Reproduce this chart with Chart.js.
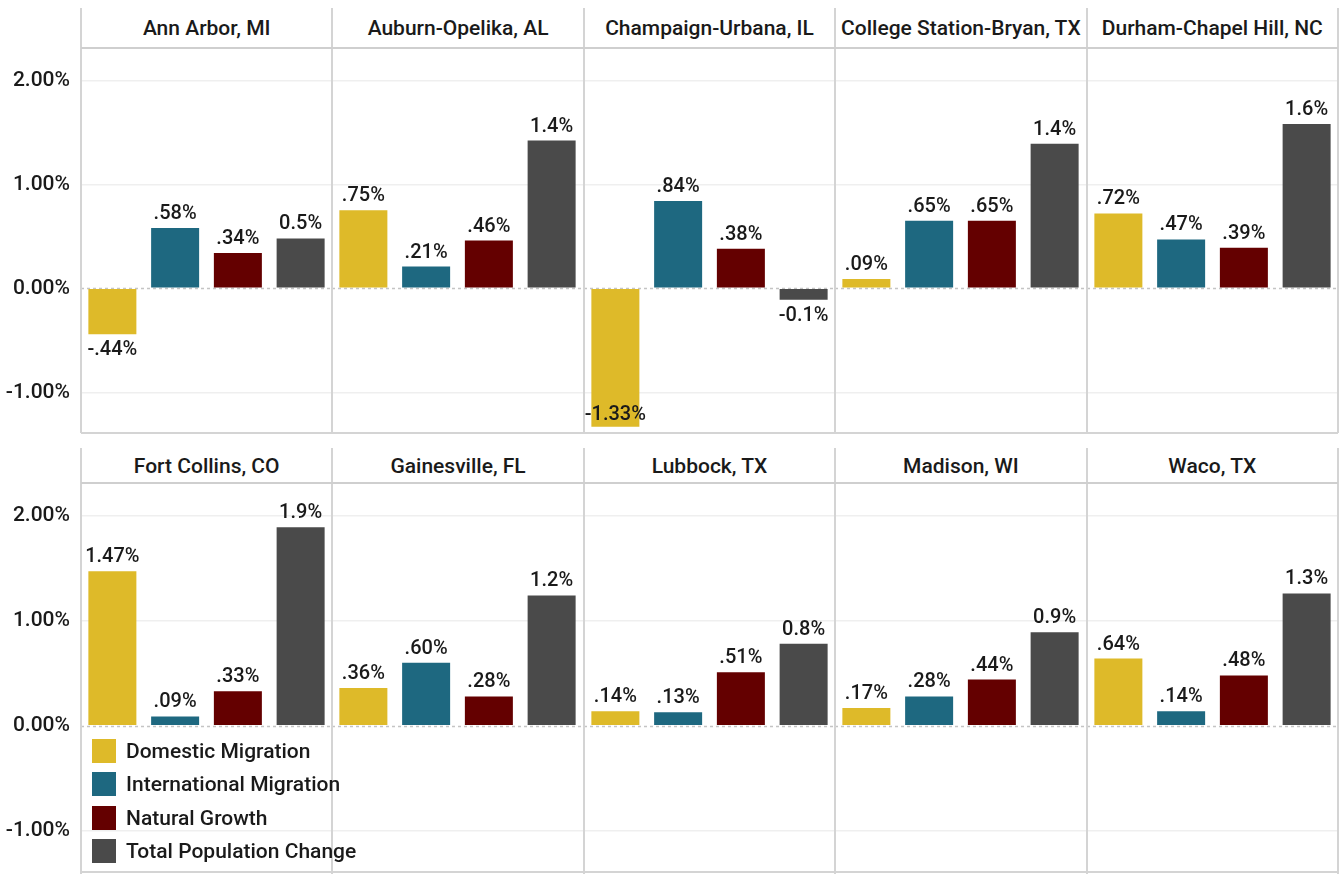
<!DOCTYPE html>
<html>
<head>
<meta charset="utf-8">
<script src="https://cdn.jsdelivr.net/npm/chart.js@4.4.1/dist/chart.umd.min.js"></script>
<style>
  html, body { margin: 0; padding: 0; background: #fff; }
  body { width: 1340px; height: 874px; position: relative; overflow: hidden; font-family: Roboto, "Noto Sans", sans-serif; color: #1a1a1a; }
  .vline { position: absolute; width: 2px; background: #d4d4d4; }
  .hline { position: absolute; background: #cfcfcf; }
  .title { position: absolute; text-align: center; font-size: 21px; font-weight: 500; line-height: 24px; color: #1a1a1a; white-space: nowrap; }
  .legend-item { position: absolute; left: 92px; height: 24px; font-size: 21px; font-weight: 500; line-height: 24px; color: #1a1a1a; white-space: nowrap; }
  .legend-item span.sw { position: absolute; left: 0; top: 0; width: 24px; height: 24px; }
  .legend-item span.tx { position: absolute; left: 34px; top: 0; }
</style>
</head>
<body>
<script>
// ---- DATA ----
const cities = ["Ann Arbor, MI", "Auburn-Opelika, AL", "Champaign-Urbana, IL", "College Station-Bryan, TX", "Durham-Chapel Hill, NC",
                "Fort Collins, CO", "Gainesville, FL", "Lubbock, TX", "Madison, WI", "Waco, TX"];
const seriesNames = ["Domestic Migration", "International Migration", "Natural Growth", "Total Population Change"];
const domestic      = [-0.44, 0.75, -1.33, 0.09, 0.72, 1.47, 0.36, 0.14, 0.17, 0.64];
const international = [ 0.58, 0.21,  0.84, 0.65, 0.47, 0.09, 0.60, 0.13, 0.28, 0.14];
const natural       = [ 0.34, 0.46,  0.38, 0.65, 0.39, 0.33, 0.28, 0.51, 0.44, 0.48];
const total         = [ 0.48, 1.42, -0.11, 1.39, 1.58, 1.89, 1.24, 0.78, 0.89, 1.26];
const tickValues = [-1, 0, 1, 2];
const tickLabels = ["-1.00%", "0.00%", "1.00%", "2.00%"];
const yMin = -1.39, yMax = 2.31;
const colors = ["#DEBA29", "#1E6880", "#640000", "#4A4A4A"];

// ---- LAYOUT ----
const colLeft = [81, 332.4, 583.8, 835.2, 1086.6, 1338];
const rows = [
  { lineTop: 8,   header: 48,  bottom: 433 },
  { lineTop: 448, header: 483, bottom: 872 }
];
const FONT = 'Roboto, "Noto Sans", sans-serif';

function fmt(v, isTotal) {
  if (isTotal) return v.toFixed(1) + "%";
  let s = Math.abs(v).toFixed(2);
  if (s.startsWith("0")) s = s.slice(1);
  return (v < 0 ? "-" : "") + s + "%";
}

const zeroLinePlugin = {
  id: 'zeroLine',
  beforeDatasetsDraw(chart) {
    const y = chart.scales.y.getPixelForValue(0);
    const ctx = chart.ctx, a = chart.chartArea;
    ctx.save();
    ctx.strokeStyle = '#c4c4c4';
    ctx.lineWidth = 1.5;
    ctx.setLineDash([3, 3]);
    ctx.beginPath();
    ctx.moveTo(a.left, Math.round(y) + 0.5);
    ctx.lineTo(a.right, Math.round(y) + 0.5);
    ctx.stroke();
    ctx.restore();
  }
};

const labelPlugin = {
  id: 'barLabels',
  afterDatasetsDraw(chart) {
    const ctx = chart.ctx, a = chart.chartArea;
    const meta = chart.getDatasetMeta(0);
    const data = chart.data.datasets[0].data;
    ctx.save();
    ctx.font = '500 20px ' + FONT;
    ctx.fillStyle = '#1a1a1a';
    ctx.textAlign = 'center';
    meta.data.forEach((bar, i) => {
      const v = data[i];
      const txt = fmt(v, i === 3);
      if (v >= 0) {
        ctx.textBaseline = 'bottom';
        ctx.fillText(txt, bar.x, bar.y - 4);
      } else {
        if (bar.y + 30 > a.bottom) {
          ctx.textBaseline = 'bottom';
          ctx.fillText(txt, bar.x, bar.y - 2);
        } else {
          ctx.textBaseline = 'top';
          ctx.fillText(txt, bar.x, bar.y + 6);
        }
      }
    });
    ctx.restore();
  }
};

function addDiv(cls, style, text) {
  const d = document.createElement('div');
  d.className = cls;
  Object.assign(d.style, style);
  if (text !== undefined) d.textContent = text;
  document.body.appendChild(d);
  return d;
}

cities.forEach((city, idx) => {
  const r = Math.floor(idx / 5), c = idx % 5;
  const row = rows[r];
  const left = colLeft[c], right = colLeft[c + 1];
  const canvasLeft = c === 0 ? 0 : left;
  const w = Math.round(right - canvasLeft);
  const h = row.bottom - row.header;
  const cv = document.createElement('canvas');
  cv.width = w; cv.height = h;
  cv.style.position = 'absolute';
  cv.style.left = canvasLeft + 'px';
  cv.style.top = row.header + 'px';
  cv.style.width = w + 'px';
  cv.style.height = h + 'px';
  document.body.appendChild(cv);

  const vals = [domestic[idx], international[idx], natural[idx], total[idx]];
  new Chart(cv.getContext('2d'), {
    type: 'bar',
    data: {
      labels: seriesNames,
      datasets: [{ data: vals, backgroundColor: colors, borderWidth: 0, barPercentage: 0.765, categoryPercentage: 1 }]
    },
    plugins: [zeroLinePlugin, labelPlugin],
    options: {
      responsive: false,
      animation: false,
      events: [],
      layout: { padding: 0 },
      plugins: { legend: { display: false }, tooltip: { enabled: false }, title: { display: false } },
      scales: {
        x: { display: false },
        y: {
          min: yMin, max: yMax,
          afterBuildTicks: (s) => { s.ticks = tickValues.map(v => ({ value: v })); },
          afterFit: (s) => {
            s.width = c === 0 ? (left - canvasLeft) : 0;
            s.paddingTop = 0; s.paddingBottom = 0;
          },
          border: { display: false },
          grid: {
            drawTicks: false,
            color: (ctx) => (ctx.tick && ctx.tick.value === 0) ? 'rgba(0,0,0,0)' : '#efefef',
            lineWidth: 1.5
          },
          ticks: {
            display: c === 0,
            padding: 11,
            color: '#1a1a1a',
            font: { family: FONT, size: 21, weight: '500' },
            callback: (v) => { const k = tickValues.indexOf(v); return k >= 0 ? tickLabels[k] : ''; }
          }
        }
      }
    }
  });

  addDiv('title', { left: left + 'px', width: (right - left) + 'px', top: (row.lineTop + (row.header - row.lineTop) / 2 - 12) + 'px' }, city);
});

// panel borders
rows.forEach((row, r) => {
  colLeft.forEach((x) => {
    addDiv('vline', { left: (x - 1) + 'px', top: row.lineTop + 'px', height: (Math.min(row.bottom, 874) - row.lineTop + (r === 1 ? 2 : 0)) + 'px' });
  });
  addDiv('hline', { left: colLeft[0] + 'px', top: (row.header - 1) + 'px', width: (colLeft[5] - colLeft[0]) + 'px', height: '1.5px' });
  addDiv('hline', { left: colLeft[0] + 'px', top: (row.bottom - 1) + 'px', width: (colLeft[5] - colLeft[0]) + 'px', height: '2px', background: '#d4d4d4' });
});

// legend
const legendTops = [739, 772, 806, 839];
seriesNames.forEach((name, i) => {
  const item = addDiv('legend-item', { top: legendTops[i] + 'px' });
  const sw = document.createElement('span'); sw.className = 'sw'; sw.style.background = colors[i];
  const tx = document.createElement('span'); tx.className = 'tx'; tx.textContent = name;
  item.appendChild(sw); item.appendChild(tx);
});
</script>
</body>
</html>
